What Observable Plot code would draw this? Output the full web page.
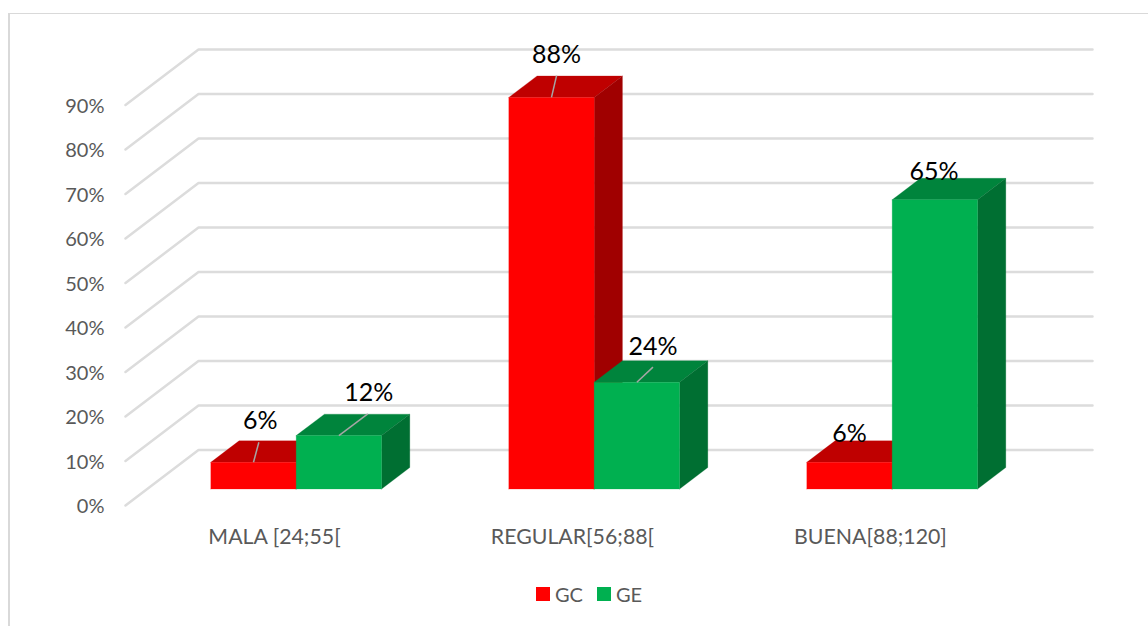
<!DOCTYPE html>
<html>
<head>
<meta charset="utf-8">
<script src="https://cdn.jsdelivr.net/npm/d3@7"></script>
<script src="https://cdn.jsdelivr.net/npm/@observablehq/plot@0.6"></script>
<style>
  html, body { margin: 0; padding: 0; background: #fff; width: 1148px; height: 626px; overflow: hidden; }
  body { position: relative; font-family: Lato, "Noto Sans", sans-serif; }
  #frame { position: absolute; left: 8px; top: 13px; right: 0; bottom: 0; border-left: 2px solid #d9d9d9; border-top: 1.5px solid #d9d9d9; pointer-events: none; }
  #chart { position: absolute; left: 0; top: 0; }
  #chart svg { display: block; background: transparent; }
  #legend { position: absolute; left: 536px; top: 579px; height: 30px; display: flex; align-items: center; color: #595959; font-size: 20px; }
  #legend span.sw { display: inline-block; width: 14px; height: 14px; margin-right: 5px; }
  #legend span.lb { margin-right: 14px; }
  #legend span.lb:first-of-type { margin-right: 15px; }
</style>
</head>
<body>
<div id="frame"></div>
<div id="chart"></div>
<div id="legend"></div>
<script>
// Data
const categories = ["MALA [24;55[", "REGULAR[56;88[", "BUENA[88;120]"];
const seriesNames = ["GC", "GE"];
const gcValues = [6, 88, 6];
const geValues = [12, 24, 65];
const tickValues = [0, 10, 20, 30, 40, 50, 60, 70, 80, 90];

// Colours per series: front, top, side faces
const palette = {
  GC: { front: "#ff0000", top: "#bf0000", side: "#a00000" },
  GE: { front: "#00b050", top: "#00843c", side: "#006f32" }
};

// 3D layout, in data units (category widths and percentage points)
const wallDepthX = 0.245;   // category units for the whole floor depth
const wallDepthY = 12.47;   // percentage points for the whole floor depth
const barWidth = 0.2865;
const barDepthStart = 0.297;
const barDepthEnd = 0.684;

const project = (u, v, d) => ({ x: u + d * wallDepthX, y: v + d * wallDepthY });

// Leader lines and label nudges [series, category]: label shift along x (cat units) and y (pct)
const leaderEnds = {
  "GC-0": [0.018, 4.5], "GE-0": [0.097, 4.9],
  "GC-1": [0.017, 4.9], "GE-1": [0.054, 3.4]
};
const labelOffsets = {
  "GC-0": [0.023, 9.2], "GE-0": [0.100, 9.5],
  "GC-1": [0.017, 9.5], "GE-1": [0.054, 8.0],
  "GC-2": [0.000, 6.3], "GE-2": [-0.003, 6.2]
};

const faces = [];
const labels = [];
const leaders = [];
categories.forEach((cat, i) => {
  seriesNames.forEach((name, s) => {
    const value = (s === 0 ? gcValues : geValues)[i];
    const u0 = i - barWidth + s * barWidth;
    const u1 = u0 + barWidth;
    const a = barDepthStart, b = barDepthEnd;
    const colours = palette[name];
    faces.push({ fill: colours.top, pts: [project(u0, value, a), project(u1, value, a), project(u1, value, b), project(u0, value, b), project(u0, value, a)] });
    faces.push({ fill: colours.side, pts: [project(u1, 0, a), project(u1, value, a), project(u1, value, b), project(u1, 0, b), project(u1, 0, a)] });
    faces.push({ fill: colours.front, pts: [project(u0, 0, a), project(u1, 0, a), project(u1, value, a), project(u0, value, a), project(u0, 0, a)] });
    const key = name + "-" + i;
    const anchor = project((u0 + u1) / 2, value, a);
    const off = labelOffsets[key];
    labels.push({ x: anchor.x + off[0], y: anchor.y + off[1], text: value + "%" });
    if (leaderEnds[key]) {
      const e = leaderEnds[key];
      leaders.push({ x1: anchor.x, y1: anchor.y, x2: anchor.x + e[0], y2: anchor.y + e[1] });
    }
  });
});

const gridLines = tickValues.map(v => [
  project(-0.5, v, 0), project(-0.5, v, 1), project(2.5, v, 1)
]);

const height = 570;
const chart = Plot.plot({
  width: 1148,
  height,
  marginLeft: 125,
  marginRight: 56,
  marginTop: 49,
  marginBottom: height - 505,
  style: { fontFamily: "Lato, 'Noto Sans', sans-serif", background: "transparent", overflow: "visible" },
  x: { domain: [-0.5, 2.5 + wallDepthX], axis: null },
  y: { domain: [0, 90 + wallDepthY], axis: null },
  marks: [
    ...gridLines.map(g => Plot.line(g, { x: "x", y: "y", stroke: "#dcdcdc", strokeWidth: 2.5, curve: "linear" })),
    Plot.axisY({ anchor: "left", ticks: tickValues, tickFormat: d => d + "%", tickSize: 0, tickPadding: 21, fontSize: 20, dy: 1.5, fill: "#595959", label: null }),
    Plot.axisX({ anchor: "bottom", ticks: [0, 1, 2], tickFormat: i => categories[i], tickSize: 0, tickPadding: 23, fontSize: 21.3, fill: "#595959", label: null }),
    ...faces.map(f => Plot.line(f.pts, { x: "x", y: "y", fill: f.fill, stroke: f.fill, strokeWidth: 0.25, curve: "linear" })),
    Plot.link(leaders, { x1: "x1", y1: "y1", x2: "x2", y2: "y2", stroke: "#a6a6a6", strokeWidth: 1.5 }),
    Plot.text(labels, { x: "x", y: "y", text: "text", fontSize: 25, fill: "#000" })
  ]
});
document.getElementById("chart").append(chart);

const legend = document.getElementById("legend");
seriesNames.forEach(name => {
  const sw = document.createElement("span");
  sw.className = "sw";
  sw.style.background = palette[name].front;
  const lb = document.createElement("span");
  lb.className = "lb";
  lb.textContent = name;
  legend.append(sw, lb);
});
</script>
</body>
</html>
